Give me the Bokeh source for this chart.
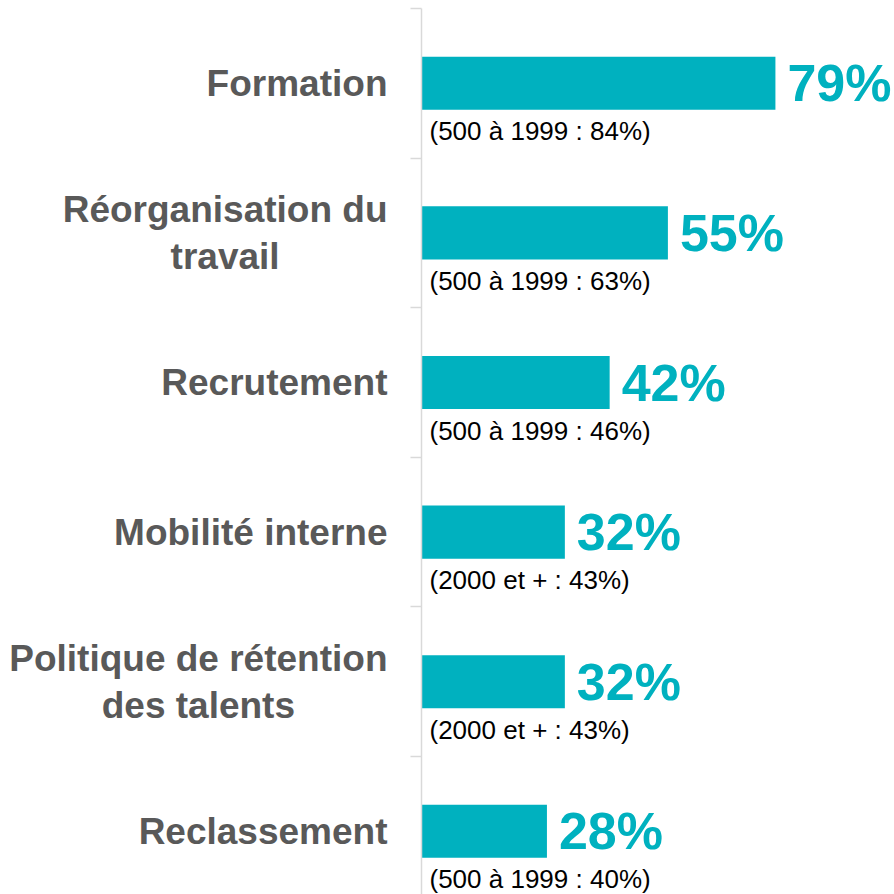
from bokeh.plotting import figure
from bokeh.layouts import row
from bokeh.models import ColumnDataSource, Range1d, FixedTicker
from bokeh.core.properties import value
from bokeh.embed import file_html
from bokeh.resources import INLINE

categories = ["Formation", "Réorganisation du\ntravail", "Recrutement",
              "Mobilité interne", "Politique de rétention\ndes talents", "Reclassement"]
values = [79, 55, 42, 32, 32, 28]
value_labels = ["79%", "55%", "42%", "32%", "32%", "28%"]
notes = ["(500 à 1999 : 84%)", "(500 à 1999 : 63%)", "(500 à 1999 : 46%)",
         "(2000 et + : 43%)", "(2000 et + : 43%)", "(500 à 1999 : 40%)"]

TEAL = "#00B1BF"
GREY = "#595959"
FONT = "Liberation Sans"

pos = list(range(len(categories)))
src = ColumnDataSource(dict(y=pos, v=values, lab=value_labels, note=notes, cat=categories))

band_px = 149.6
frame_h = 886
frame_w = 473
axis_w = 11
left_w = 421 - axis_w
y_range = Range1d(-0.5 + frame_h / band_px, -0.5)

# left panel: category names
pl = figure(width=left_w, height=894, frame_width=left_w, frame_height=frame_h,
            output_backend="svg", toolbar_location=None,
            x_range=Range1d(0, 1), y_range=y_range,
            x_axis_location=None, y_axis_location=None,
            min_border_left=0, min_border_right=0, min_border_top=8, min_border_bottom=0)
pl.outline_line_color = None
pl.xgrid.visible = False
pl.ygrid.visible = False
pl.text(x=1, y="y", text="cat", source=src, x_offset=-(34 - axis_w),
        anchor="center_right", text_align="center", text_baseline="middle",
        text_font=value(FONT), text_font_style="bold", text_font_size="37px",
        text_color=GREY, text_line_height=1.15)

# main panel: bars
p = figure(width=frame_w + axis_w, height=894, frame_width=frame_w, frame_height=frame_h,
           output_backend="svg", toolbar_location=None,
           x_range=Range1d(0, frame_w / 4.48), y_range=y_range,
           x_axis_location=None, min_border_left=axis_w, min_border_right=0,
           min_border_top=8, min_border_bottom=0)
p.outline_line_color = None
p.xgrid.visible = False
p.ygrid.visible = False

p.hbar(y="y", right="v", left=0, height=0.355, source=src,
       fill_color=TEAL, line_color=None)

p.text(x="v", y="y", text="lab", source=src, x_offset=12,
       text_font=value(FONT), text_font_style="bold", text_font_size="52px",
       text_color=TEAL, text_baseline="middle", text_align="left")

p.text(x=0, y="y", text="note", source=src, x_offset=8, y_offset=48,
       text_font=value(FONT), text_font_size="26px",
       text_color="black", text_baseline="middle", text_align="left")

ax = p.yaxis[0]
ax.ticker = FixedTicker(ticks=[], minor_ticks=[i - 0.5 for i in pos])
ax.major_tick_out = 0
ax.major_tick_in = 0
ax.minor_tick_out = 11
ax.minor_tick_in = 0
ax.minor_tick_line_color = "#D9D9D9"
ax.minor_tick_line_width = 1.5
ax.axis_line_color = "#D9D9D9"
ax.axis_line_width = 1.5

layout = row(pl, p, spacing=0)
open("out.html", "w").write(file_html(layout, INLINE))
